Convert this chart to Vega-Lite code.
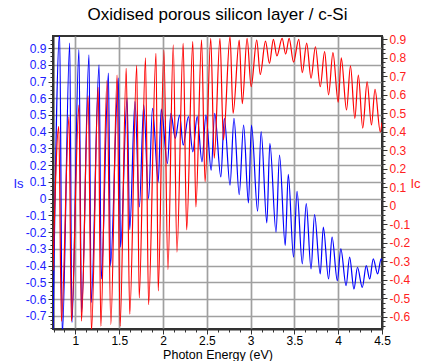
{
  "$schema": "https://vega.github.io/schema/vega-lite/v6.json",
  "autosize": {"type": "none"},
  "width": 329,
  "height": 293,
  "padding": {"left": 53, "top": 36, "right": 39, "bottom": 32},
  "background": "white",
  "title": {"text": "Oxidised porous silicon layer / c-Si", "font": "Liberation Sans", "fontSize": 17, "fontWeight": "normal", "color": "#000000", "offset": 9, "anchor": "middle"},
  "config": {
    "view": {"stroke": "#333333", "strokeWidth": 2},
    "axis": {"labelFont": "Liberation Sans", "labelFontSize": 12, "titleFont": "Liberation Sans", "titleFontWeight": "normal", "domainColor": "#333333", "domainWidth": 2, "tickColor": "#333333", "tickWidth": 1, "gridColor": "#a0a0a0", "gridWidth": 1.7, "labelOverlap": false, "labelBound": false, "labelFlush": false}
  },
  "datasets": {
    "is": [
      {"e": 0.744, "v": -0.78}, {"e": 0.82, "v": 0.99}, {"e": 0.85, "v": -0.82}, {"e": 0.935, "v": 0.93}, {"e": 0.96, "v": -0.74},
      {"e": 1.04, "v": 0.89}, {"e": 1.07, "v": -0.68}, {"e": 1.155, "v": 0.86}, {"e": 1.18, "v": -0.62}, {"e": 1.27, "v": 0.8},
      {"e": 1.295, "v": -0.48}, {"e": 1.377, "v": 0.75}, {"e": 1.4, "v": -0.4}, {"e": 1.49, "v": 0.72}, {"e": 1.515, "v": -0.29},
      {"e": 1.59, "v": 0.6}, {"e": 1.62, "v": -0.185}, {"e": 1.68, "v": 0.58}, {"e": 1.73, "v": -0.05}, {"e": 1.78, "v": 0.56},
      {"e": 1.835, "v": 0.0}, {"e": 1.88, "v": 0.54}, {"e": 1.945, "v": 0.1}, {"e": 1.98, "v": 0.535}, {"e": 2.05, "v": 0.21},
      {"e": 2.09, "v": 0.51}, {"e": 2.14, "v": 0.36}, {"e": 2.19, "v": 0.5}, {"e": 2.23, "v": 0.32}, {"e": 2.29, "v": 0.49},
      {"e": 2.34, "v": 0.28}, {"e": 2.39, "v": 0.49}, {"e": 2.445, "v": 0.22}, {"e": 2.49, "v": 0.5}, {"e": 2.55, "v": 0.17},
      {"e": 2.59, "v": 0.51}, {"e": 2.66, "v": 0.13}, {"e": 2.7, "v": 0.48}, {"e": 2.765, "v": 0.08}, {"e": 2.81, "v": 0.48},
      {"e": 2.87, "v": 0.024}, {"e": 2.92, "v": 0.44}, {"e": 2.975, "v": -0.026}, {"e": 3.01, "v": 0.44}, {"e": 3.08, "v": -0.075},
      {"e": 3.12, "v": 0.4}, {"e": 3.185, "v": -0.145}, {"e": 3.22, "v": 0.33}, {"e": 3.29, "v": -0.2}, {"e": 3.33, "v": 0.26},
      {"e": 3.395, "v": -0.28}, {"e": 3.43, "v": 0.145}, {"e": 3.49, "v": -0.35}, {"e": 3.53, "v": 0.044}, {"e": 3.59, "v": -0.39},
      {"e": 3.635, "v": -0.03}, {"e": 3.69, "v": -0.42}, {"e": 3.73, "v": -0.095}, {"e": 3.795, "v": -0.45}, {"e": 3.83, "v": -0.17},
      {"e": 3.89, "v": -0.48}, {"e": 3.93, "v": -0.23}, {"e": 3.99, "v": -0.49}, {"e": 4.03, "v": -0.3}, {"e": 4.09, "v": -0.52},
      {"e": 4.13, "v": -0.35}, {"e": 4.18, "v": -0.54}, {"e": 4.22, "v": -0.41}, {"e": 4.275, "v": -0.53}, {"e": 4.32, "v": -0.4},
      {"e": 4.36, "v": -0.48}, {"e": 4.4, "v": -0.36}, {"e": 4.45, "v": -0.45}, {"e": 4.49, "v": -0.36}, {"e": 4.5, "v": -0.37}
    ],
    "ic": [
      {"e": 0.744, "v": -0.35}, {"e": 0.81, "v": 0.43}, {"e": 0.84, "v": -0.624}, {"e": 0.927, "v": 0.482}, {"e": 0.954, "v": -0.624},
      {"e": 1.04, "v": 0.545}, {"e": 1.069, "v": -0.624}, {"e": 1.145, "v": 0.594}, {"e": 1.183, "v": -0.68}, {"e": 1.26, "v": 0.64},
      {"e": 1.29, "v": -0.651}, {"e": 1.36, "v": 0.677}, {"e": 1.404, "v": -0.642}, {"e": 1.476, "v": 0.707}, {"e": 1.51, "v": -0.651},
      {"e": 1.58, "v": 0.743}, {"e": 1.62, "v": -0.586}, {"e": 1.7, "v": 0.76}, {"e": 1.728, "v": -0.498}, {"e": 1.8, "v": 0.8},
      {"e": 1.835, "v": -0.534}, {"e": 1.92, "v": 0.824}, {"e": 1.945, "v": -0.46}, {"e": 2.01, "v": 0.842}, {"e": 2.056, "v": -0.345},
      {"e": 2.117, "v": 0.87}, {"e": 2.159, "v": -0.25}, {"e": 2.23, "v": 0.878}, {"e": 2.27, "v": -0.13}, {"e": 2.34, "v": 0.888},
      {"e": 2.375, "v": -0.006}, {"e": 2.44, "v": 0.896}, {"e": 2.48, "v": 0.13}, {"e": 2.545, "v": 0.905}, {"e": 2.585, "v": 0.257},
      {"e": 2.65, "v": 0.905}, {"e": 2.69, "v": 0.356}, {"e": 2.765, "v": 0.915}, {"e": 2.8, "v": 0.5}, {"e": 2.87, "v": 0.896},
      {"e": 2.905, "v": 0.552}, {"e": 2.96, "v": 0.905}, {"e": 3.006, "v": 0.644}, {"e": 3.07, "v": 0.896}, {"e": 3.11, "v": 0.71},
      {"e": 3.17, "v": 0.89}, {"e": 3.215, "v": 0.77}, {"e": 3.26, "v": 0.9}, {"e": 3.3, "v": 0.81}, {"e": 3.36, "v": 0.905},
      {"e": 3.4, "v": 0.82}, {"e": 3.44, "v": 0.905}, {"e": 3.49, "v": 0.777}, {"e": 3.55, "v": 0.9}, {"e": 3.59, "v": 0.72},
      {"e": 3.64, "v": 0.88}, {"e": 3.69, "v": 0.69}, {"e": 3.74, "v": 0.86}, {"e": 3.795, "v": 0.644}, {"e": 3.845, "v": 0.833},
      {"e": 3.89, "v": 0.6}, {"e": 3.94, "v": 0.828}, {"e": 4.0, "v": 0.56}, {"e": 4.035, "v": 0.8}, {"e": 4.095, "v": 0.518},
      {"e": 4.14, "v": 0.756}, {"e": 4.19, "v": 0.473}, {"e": 4.23, "v": 0.707}, {"e": 4.28, "v": 0.42}, {"e": 4.33, "v": 0.67},
      {"e": 4.38, "v": 0.437}, {"e": 4.42, "v": 0.63}, {"e": 4.48, "v": 0.4}, {"e": 4.5, "v": 0.45}
    ]
  },
  "encoding": {
    "x": {"field": "e", "type": "quantitative", "scale": {"domain": [0.744, 4.5], "nice": false, "zero": false},
      "axis": {"title": "Photon Energy (eV)", "titleFontSize": 12.5, "titleColor": "#000000", "titleBaseline": "top", "titleY": 19, "labelColor": "#000000", "labelPadding": 1,
        "values": [0.75, 0.875, 1, 1.125, 1.25, 1.375, 1.5, 1.625, 1.75, 1.875, 2, 2.125, 2.25, 2.375, 2.5, 2.625, 2.75, 2.875, 3, 3.125, 3.25, 3.375, 3.5, 3.625, 3.75, 3.875, 4, 4.125, 4.25, 4.375, 4.5],
        "labelExpr": "abs(datum.value*2-round(datum.value*2))<0.01 ? format(datum.value,'~g') : ''",
        "tickSize": {"condition": {"test": "abs(datum.value*2-round(datum.value*2))<0.01", "value": 5}, "value": 3},
        "grid": true,
        "gridOpacity": {"condition": {"test": "abs(datum.value*2-round(datum.value*2))<0.01 && datum.value<4.4", "value": 1}, "value": 0}}}
  },
  "layer": [
    {
      "data": {"name": "is"},
      "mark": {"type": "line", "color": "#0000ff", "strokeWidth": 1.2, "interpolate": "monotone", "clip": true},
      "encoding": {
        "y": {"field": "v", "type": "quantitative", "scale": {"domain": [-0.779, 0.972], "nice": false, "zero": false},
          "axis": {"orient": "left", "title": "Is", "titleAngle": 0, "titleColor": "#2020ff", "titleFontSize": 13, "titleX": -35, "titleY": 147, "titleAlign": "center", "titleBaseline": "middle",
            "labelColor": "#2020ff", "labelPadding": 2,
            "values": [-0.775, -0.75, -0.725, -0.7, -0.675, -0.65, -0.625, -0.6, -0.575, -0.55, -0.525, -0.5, -0.475, -0.45, -0.425, -0.4, -0.375, -0.35, -0.325, -0.3, -0.275, -0.25, -0.225, -0.2, -0.175, -0.15, -0.125, -0.1, -0.075, -0.05, -0.025, 0, 0.025, 0.05, 0.075, 0.1, 0.125, 0.15, 0.175, 0.2, 0.225, 0.25, 0.275, 0.3, 0.325, 0.35, 0.375, 0.4, 0.425, 0.45, 0.475, 0.5, 0.525, 0.55, 0.575, 0.6, 0.625, 0.65, 0.675, 0.7, 0.725, 0.75, 0.775, 0.8, 0.825, 0.85, 0.875, 0.9, 0.925, 0.95],
            "labelExpr": "abs(datum.value*10-round(datum.value*10))<0.01 ? (round(datum.value*10)<0 ? '-' : '') + format(abs(round(datum.value*10))/10,'~g') : ''",
            "tickSize": {"condition": {"test": "abs(datum.value*10-round(datum.value*10))<0.01", "value": 5}, "value": 3},
            "grid": true,
            "gridOpacity": {"condition": {"test": "abs(datum.value*10-round(datum.value*10))<0.01", "value": 1}, "value": 0}}}
      }
    },
    {
      "data": {"name": "ic"},
      "mark": {"type": "line", "color": "#ff0000", "strokeWidth": 1.2, "interpolate": "monotone", "clip": true},
      "encoding": {
        "y": {"field": "v", "type": "quantitative", "scale": {"domain": [-0.666, 0.918], "nice": false, "zero": false},
          "axis": {"orient": "right", "title": "Ic", "titleAngle": 0, "titleColor": "#ff2020", "titleFontSize": 13, "titleX": 28, "titleY": 147, "titleAlign": "left", "titleBaseline": "middle",
            "labelColor": "#ff2020", "labelPadding": 2, "grid": false,
            "values": [-0.65, -0.625, -0.6, -0.575, -0.55, -0.525, -0.5, -0.475, -0.45, -0.425, -0.4, -0.375, -0.35, -0.325, -0.3, -0.275, -0.25, -0.225, -0.2, -0.175, -0.15, -0.125, -0.1, -0.075, -0.05, -0.025, 0, 0.025, 0.05, 0.075, 0.1, 0.125, 0.15, 0.175, 0.2, 0.225, 0.25, 0.275, 0.3, 0.325, 0.35, 0.375, 0.4, 0.425, 0.45, 0.475, 0.5, 0.525, 0.55, 0.575, 0.6, 0.625, 0.65, 0.675, 0.7, 0.725, 0.75, 0.775, 0.8, 0.825, 0.85, 0.875, 0.9],
            "labelExpr": "abs(datum.value*10-round(datum.value*10))<0.01 ? (round(datum.value*10)<0 ? '-' : '') + format(abs(round(datum.value*10))/10,'~g') : ''",
            "tickSize": {"condition": {"test": "abs(datum.value*10-round(datum.value*10))<0.01", "value": 5}, "value": 3}}}
      }
    }
  ],
  "resolve": {"scale": {"y": "independent"}, "axis": {"y": "independent"}}
}
